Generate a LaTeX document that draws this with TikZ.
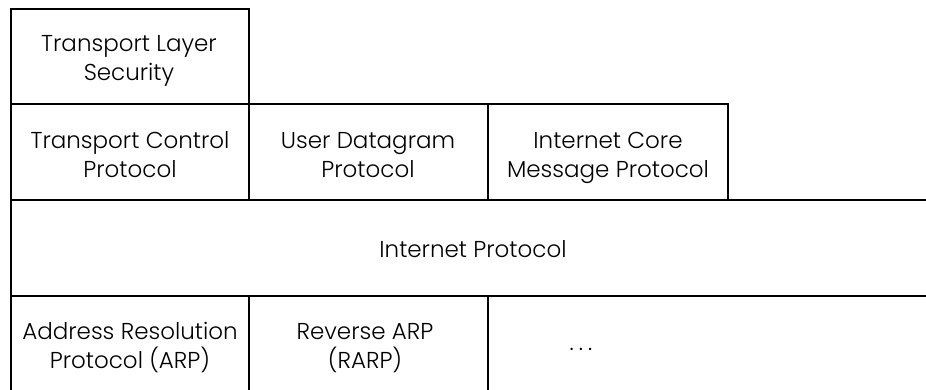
\documentclass[tikz,border=0pt]{standalone}
\usepackage{fontspec}
\setmainfont{Poppins Light}
\begin{document}
\begin{tikzpicture}[x=1pt,y=-1pt,
  rule/.style={line width=2.2pt, line cap=rect},
  lbl/.style={align=center, anchor=base, inner sep=0pt,
              font=\fontsize{23}{29}\selectfont}]
\useasboundingbox (0,0) rectangle (926,389);
\fill[white] (0,0) rectangle (926,389);

% stack outline
\draw[rule] (11,389) -- (11,9) -- (249,9) -- (249,104);
\draw[rule] (11,104) -- (728,104) -- (728,200);
\draw[rule] (249,104) -- (249,200);
\draw[rule] (488,104) -- (488,200);
\draw[rule] (11,200) -- (926,200);
\draw[rule] (11,296) -- (926,296);
\draw[rule] (249,296) -- (249,389);
\draw[rule] (488,296) -- (488,389);

% layer names (base anchor sits on the last line)
\node[lbl] (tls)  at (129,80)  {Transport Layer\\Security};
\node[lbl] (tcp)  at (130,177) {Transport Control\\Protocol};
\node[lbl] (udp)  at (368,177) {User Datagram\\Protocol};
\node[lbl] (icmp) at (608,177) {Internet Core\\Message Protocol};
\node[lbl] (ip)   at (473,257) {Internet Protocol};
\node[lbl] (arp)  at (130,368) {Address Resolution\\Protocol (ARP)};
\node[lbl] (rarp) at (365,368) {Reverse ARP\\(RARP)};
\node[lbl] (more) at (581,350) {.\hspace{5pt}.\hspace{5pt}.};
\end{tikzpicture}
\end{document}
